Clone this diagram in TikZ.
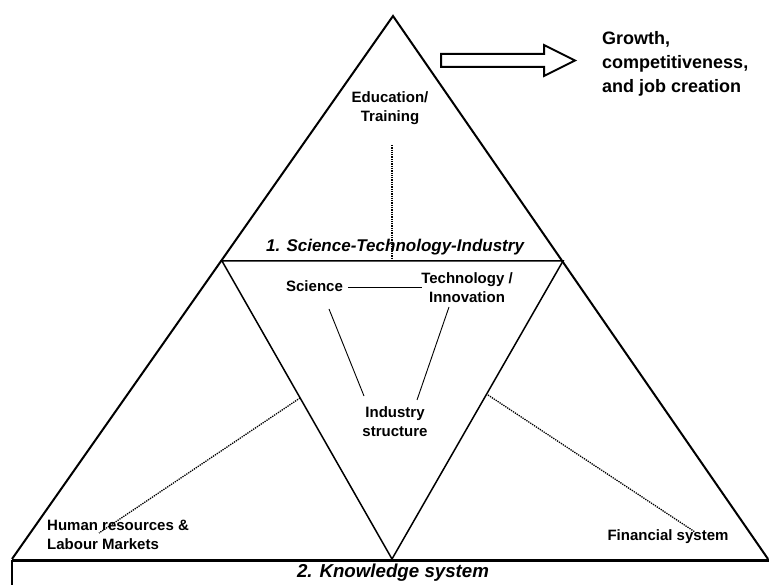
\documentclass[tikz,border=0pt]{standalone}
\usepackage{fontspec}
\setmainfont{Liberation Sans}
\begin{document}
\begin{tikzpicture}[x=1pt,y=-1pt,
  lbl/.style={font=\fontsize{15pt}{19pt}\selectfont\bfseries, inner sep=0pt, align=center},
  headsti/.style={font=\fontsize{17pt}{17pt}\selectfont\bfseries\itshape, inner sep=0pt},
  headks/.style={font=\fontsize{18.7pt}{19pt}\selectfont\bfseries\itshape, inner sep=0pt},
  frame/.style={line width=2pt, line join=miter},
  inner/.style={line width=1.5pt},
  link/.style={line width=0.9pt},
  dotlink/.style={line width=1.3pt, densely dotted}]
\useasboundingbox (0,0) rectangle (769,585);

% outer pyramid and inverted inner triangle
\coordinate (apex) at (393,16);
\coordinate (bl) at (12,559);
\coordinate (br) at (768,559);
\coordinate (il) at (222,261);
\coordinate (ir) at (563,261);
\coordinate (ib) at (392,559);
\draw[frame] (bl) -- (apex) -- (br);
\draw[inner] (il) -- (ir) -- (ib) -- cycle;

% base of the knowledge system
\draw[line width=3pt] (12,560) -- (769,560);
\draw[line width=2.5pt] (12,560) -- (12,585);

% outcome arrow
\draw[line width=2pt, line join=miter]
  (441,54) -- (544,54) -- (544,45) -- (575,60.5) -- (544,76) -- (544,67) -- (441,67) -- cycle;
\node[lbl, font=\fontsize{18pt}{24pt}\selectfont\bfseries, align=left, anchor=west] (growth) at (602,64)
  {Growth,\\competitiveness,\\and job creation};

% labels
\node[lbl] (edu) at (390,108.5) {Education/\\Training};
\node[headsti] (sti) at (395,247) {1. Science-Technology-Industry};
\node[lbl] (sci) at (314.5,286) {Science};
\node[lbl] (tech) at (467,288) {Technology /\\Innovation};
\node[lbl] (ind) at (395,421.5) {Industry\\structure};
\node[lbl, align=left, anchor=west] (hr) at (47,534.5) {Human resources \&\\Labour Markets};
\node[lbl] (fin) at (668,537) {Financial system};
\node[headks] (ks) at (393,573) {2. Knowledge system};

% solid links inside the inner triangle
\coordinate (sciE) at (348,287);
\coordinate (techW) at (422,287);
\coordinate (sciS) at (329,309);
\coordinate (indNW) at (364,396);
\coordinate (techS) at (449,307);
\coordinate (indNE) at (417,400);
\draw[link] (sciE) -- (techW);
\draw[link] (sciS) -- (indNW);
\draw[link] (techS) -- (indNE);

% dotted links to the outer corners
\coordinate (eduS) at (392,145);
\coordinate (stiC) at (392,261);
\coordinate (lEdge) at (300,398);
\coordinate (hrE) at (99,533);
\coordinate (rEdge) at (488,395);
\coordinate (finN) at (695,532);
\draw[dotlink] (eduS) -- (stiC);
\draw[dotlink] (lEdge) -- (hrE);
\draw[dotlink] (rEdge) -- (finN);
\end{tikzpicture}
\end{document}
